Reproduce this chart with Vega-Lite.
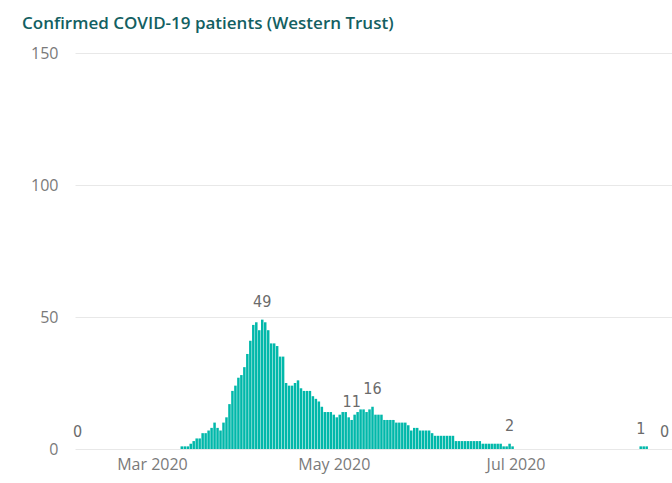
{
  "$schema": "https://vega.github.io/schema/vega-lite/v6.json",
  "width": 597,
  "height": 396,
  "autosize": "none",
  "padding": {"left": 75, "top": 53, "right": 0, "bottom": 34},
  "background": "white",
  "title": {
    "text": "Confirmed COVID-19 patients (Western Trust)",
    "anchor": "start",
    "frame": "group",
    "dx": -53,
    "offset": 12,
    "font": "Open Sans",
    "fontWeight": 600,
    "fontSize": 17,
    "color": "#135F62"
  },
  "data": {
    "values": [
      {"date": "2020-02-05", "patients": 0, "label": true},
      {"date": "2020-03-11", "patients": 1},
      {"date": "2020-03-12", "patients": 1},
      {"date": "2020-03-13", "patients": 1},
      {"date": "2020-03-14", "patients": 2},
      {"date": "2020-03-15", "patients": 3},
      {"date": "2020-03-16", "patients": 4},
      {"date": "2020-03-17", "patients": 4},
      {"date": "2020-03-18", "patients": 6},
      {"date": "2020-03-19", "patients": 6},
      {"date": "2020-03-20", "patients": 7},
      {"date": "2020-03-21", "patients": 8},
      {"date": "2020-03-22", "patients": 10},
      {"date": "2020-03-23", "patients": 8},
      {"date": "2020-03-24", "patients": 7},
      {"date": "2020-03-25", "patients": 10},
      {"date": "2020-03-26", "patients": 12},
      {"date": "2020-03-27", "patients": 17},
      {"date": "2020-03-28", "patients": 22},
      {"date": "2020-03-29", "patients": 24},
      {"date": "2020-03-30", "patients": 27},
      {"date": "2020-03-31", "patients": 28},
      {"date": "2020-04-01", "patients": 31},
      {"date": "2020-04-02", "patients": 36},
      {"date": "2020-04-03", "patients": 41},
      {"date": "2020-04-04", "patients": 47},
      {"date": "2020-04-05", "patients": 48},
      {"date": "2020-04-06", "patients": 45},
      {"date": "2020-04-07", "patients": 49, "label": true},
      {"date": "2020-04-08", "patients": 48},
      {"date": "2020-04-09", "patients": 45},
      {"date": "2020-04-10", "patients": 40},
      {"date": "2020-04-11", "patients": 40},
      {"date": "2020-04-12", "patients": 39},
      {"date": "2020-04-13", "patients": 35},
      {"date": "2020-04-14", "patients": 35},
      {"date": "2020-04-15", "patients": 25},
      {"date": "2020-04-16", "patients": 24},
      {"date": "2020-04-17", "patients": 24},
      {"date": "2020-04-18", "patients": 25},
      {"date": "2020-04-19", "patients": 26},
      {"date": "2020-04-20", "patients": 23},
      {"date": "2020-04-21", "patients": 22},
      {"date": "2020-04-22", "patients": 22},
      {"date": "2020-04-23", "patients": 22},
      {"date": "2020-04-24", "patients": 20},
      {"date": "2020-04-25", "patients": 19},
      {"date": "2020-04-26", "patients": 18},
      {"date": "2020-04-27", "patients": 16},
      {"date": "2020-04-28", "patients": 14},
      {"date": "2020-04-29", "patients": 14},
      {"date": "2020-04-30", "patients": 14},
      {"date": "2020-05-01", "patients": 13},
      {"date": "2020-05-02", "patients": 12},
      {"date": "2020-05-03", "patients": 13},
      {"date": "2020-05-04", "patients": 14},
      {"date": "2020-05-05", "patients": 14},
      {"date": "2020-05-06", "patients": 12},
      {"date": "2020-05-07", "patients": 11, "label": true},
      {"date": "2020-05-08", "patients": 13},
      {"date": "2020-05-09", "patients": 14},
      {"date": "2020-05-10", "patients": 15},
      {"date": "2020-05-11", "patients": 15},
      {"date": "2020-05-12", "patients": 14},
      {"date": "2020-05-13", "patients": 15},
      {"date": "2020-05-14", "patients": 16, "label": true},
      {"date": "2020-05-15", "patients": 13},
      {"date": "2020-05-16", "patients": 13},
      {"date": "2020-05-17", "patients": 13},
      {"date": "2020-05-18", "patients": 11},
      {"date": "2020-05-19", "patients": 11},
      {"date": "2020-05-20", "patients": 11},
      {"date": "2020-05-21", "patients": 11},
      {"date": "2020-05-22", "patients": 10},
      {"date": "2020-05-23", "patients": 10},
      {"date": "2020-05-24", "patients": 10},
      {"date": "2020-05-25", "patients": 10},
      {"date": "2020-05-26", "patients": 9},
      {"date": "2020-05-27", "patients": 7},
      {"date": "2020-05-28", "patients": 8},
      {"date": "2020-05-29", "patients": 8},
      {"date": "2020-05-30", "patients": 7},
      {"date": "2020-05-31", "patients": 7},
      {"date": "2020-06-01", "patients": 7},
      {"date": "2020-06-02", "patients": 7},
      {"date": "2020-06-03", "patients": 6},
      {"date": "2020-06-04", "patients": 5},
      {"date": "2020-06-05", "patients": 5},
      {"date": "2020-06-06", "patients": 5},
      {"date": "2020-06-07", "patients": 5},
      {"date": "2020-06-08", "patients": 5},
      {"date": "2020-06-09", "patients": 5},
      {"date": "2020-06-10", "patients": 5},
      {"date": "2020-06-11", "patients": 3},
      {"date": "2020-06-12", "patients": 3},
      {"date": "2020-06-13", "patients": 3},
      {"date": "2020-06-14", "patients": 3},
      {"date": "2020-06-15", "patients": 3},
      {"date": "2020-06-16", "patients": 3},
      {"date": "2020-06-17", "patients": 3},
      {"date": "2020-06-18", "patients": 3},
      {"date": "2020-06-19", "patients": 3},
      {"date": "2020-06-20", "patients": 2},
      {"date": "2020-06-21", "patients": 2},
      {"date": "2020-06-22", "patients": 2},
      {"date": "2020-06-23", "patients": 2},
      {"date": "2020-06-24", "patients": 2},
      {"date": "2020-06-25", "patients": 2},
      {"date": "2020-06-26", "patients": 2},
      {"date": "2020-06-27", "patients": 1},
      {"date": "2020-06-28", "patients": 1},
      {"date": "2020-06-29", "patients": 2, "label": true},
      {"date": "2020-06-30", "patients": 1},
      {"date": "2020-08-12", "patients": 1, "label": true},
      {"date": "2020-08-13", "patients": 1},
      {"date": "2020-08-14", "patients": 1},
      {"date": "2020-08-20", "patients": 0, "label": true}
    ]
  },
  "encoding": {
    "x": {
      "field": "date",
      "type": "temporal",
      "scale": {
        "type": "utc",
        "padding": 0,
        "nice": false,
        "domain": [
          {"year": 2020, "month": 2, "date": 4, "hours": 4, "utc": true},
          {"year": 2020, "month": 8, "date": 22, "hours": 12, "utc": true}
        ]
      },
      "axis": {
        "title": null,
        "values": [
          {"year": 2020, "month": 3, "date": 1, "utc": true},
          {"year": 2020, "month": 5, "date": 1, "utc": true},
          {"year": 2020, "month": 7, "date": 1, "utc": true}
        ],
        "labelExpr": "utcFormat(datum.value, '%b %Y')",
        "domain": false,
        "ticks": false,
        "grid": false,
        "labelFont": "Open Sans",
        "labelFontSize": 16,
        "labelColor": "#7a7a7a",
        "labelPadding": 7
      }
    },
    "y": {
      "field": "patients",
      "type": "quantitative",
      "scale": {"domain": [0, 150], "nice": false},
      "axis": {
        "title": null,
        "values": [0, 50, 100, 150],
        "domain": false,
        "ticks": false,
        "grid": true,
        "gridColor": "#e8e8e8",
        "gridWidth": 1,
        "labelFont": "Open Sans",
        "labelFontSize": 16,
        "labelColor": "#7a7a7a",
        "labelPadding": 17
      }
    }
  },
  "layer": [
    {
      "mark": {"type": "bar", "width": 2.5, "color": "#01B8AA"}
    },
    {
      "transform": [{"filter": "datum.label === true"}],
      "mark": {
        "type": "text",
        "font": "DejaVu Sans Condensed",
        "fontSize": 16,
        "color": "#6b6b6b",
        "baseline": "alphabetic",
        "align": "center",
        "dy": -12.5
      },
      "encoding": {
        "text": {"field": "patients", "type": "quantitative"}
      }
    }
  ],
  "config": {"view": {"stroke": null}}
}
